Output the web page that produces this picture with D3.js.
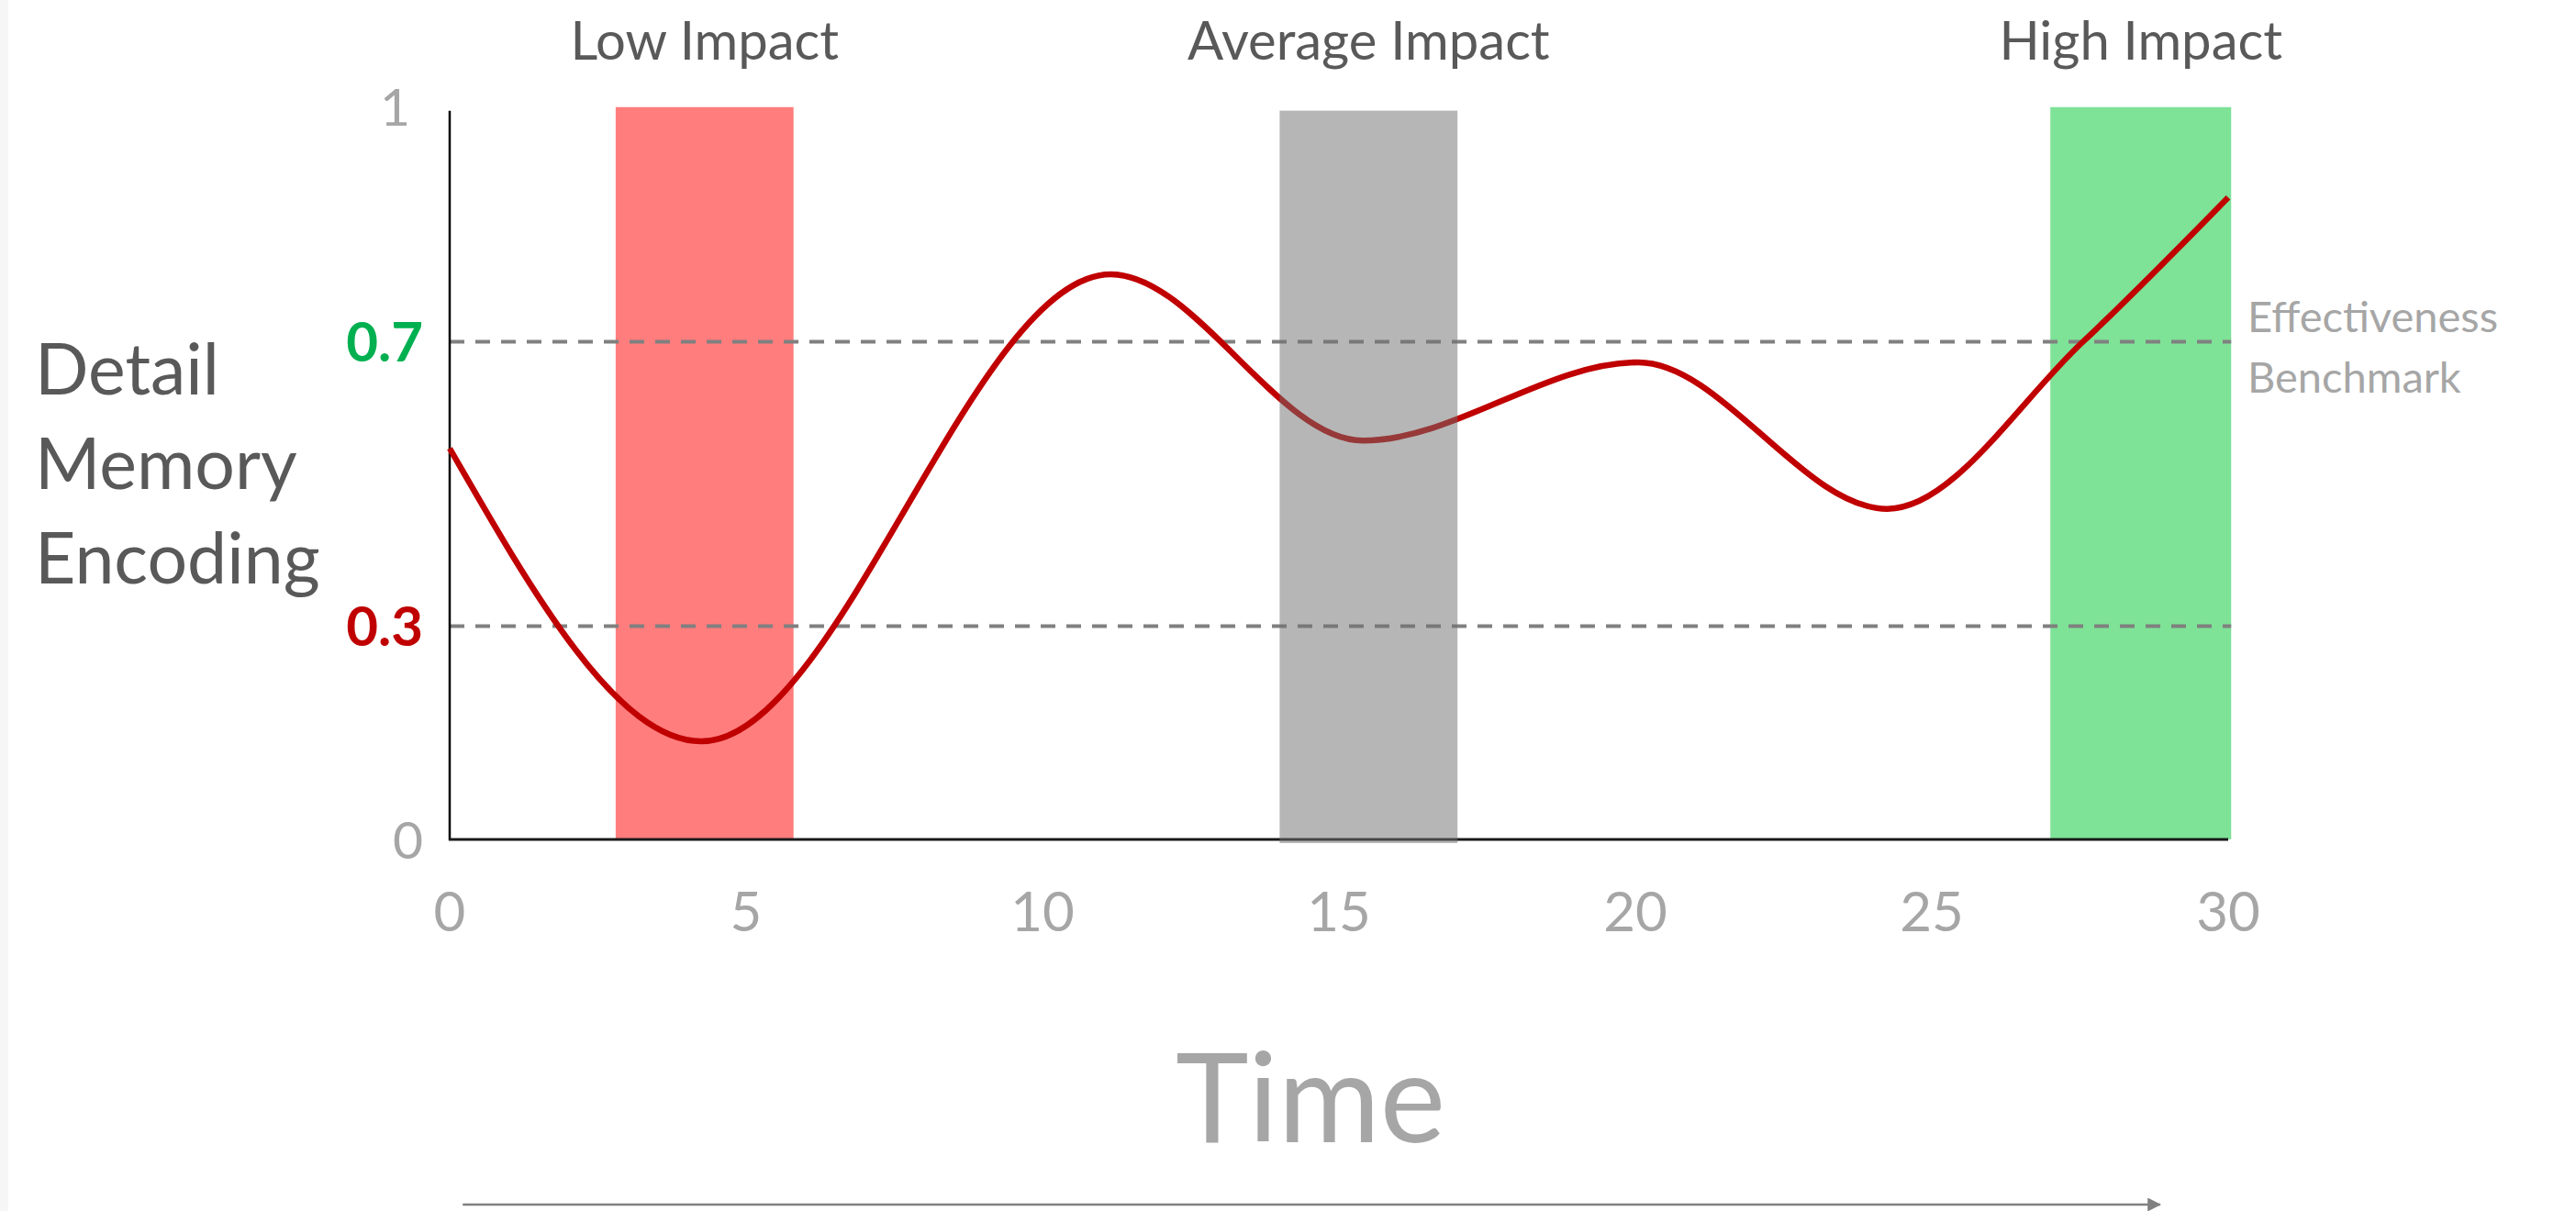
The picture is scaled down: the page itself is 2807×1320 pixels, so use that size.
<!DOCTYPE html>
<html>
<head>
<meta charset="utf-8">
<script src="https://cdn.jsdelivr.net/npm/d3@7"></script>
<style>
  html, body { margin: 0; padding: 0; background: #ffffff; }
  svg { display: block; }
  text { font-family: Lato, "Open Sans", sans-serif; }
</style>
</head>
<body>
<svg id="chart" width="2807" height="1320"></svg>
<script>
// ---- data ----
const timeValues = [0, 4.25, 11.15, 15.4, 20.05, 24.25, 27.55, 30];
const encodingValues = [0.55, 0.138, 0.795, 0.561, 0.671, 0.465, 0.70, 0.903];

const bandLabels = ["Low Impact", "Average Impact", "High Impact"];
const bandStart = [2.8, 14.0, 27.0];
const bandEnd = [5.8, 17.0, 30.05];

const xTickValues = [0, 5, 10, 15, 20, 25, 30];
const xTickLabels = ["0", "5", "10", "15", "20", "25", "30"];
const yTickValues = [0, 0.3, 0.7, 1.03];
const yTickLabels = ["0", "0.3", "0.7", "1"];
const benchmarkValues = [0.3, 0.7];
const yMax = 1.03;

// ---- layout ----
const svg = d3.select("#chart");
const x = d3.scaleLinear().domain([0, 30]).range([490, 2428]);
const y = d3.scaleLinear().domain([0, 1]).range([915, 140]);

// page edge tint
svg.append("rect").attr("x", 0).attr("y", 0).attr("width", 9).attr("height", 1320).attr("fill", "#f6f6f6");

const bands = bandLabels.map((l, i) => ({ label: l, s: bandStart[i], e: bandEnd[i], i }));
const bandColors = ["#ff7d7d", null, "#7ee297"];

// red / green bands (under everything)
svg.append("g").selectAll("rect")
  .data(bands.filter(d => d.i !== 1))
  .join("rect")
  .attr("x", d => x(d.s))
  .attr("width", d => x(d.e) - x(d.s))
  .attr("y", y(yMax))
  .attr("height", y(0) - y(yMax))
  .attr("fill", d => bandColors[d.i]);

// benchmark dashed lines
svg.append("g").selectAll("line")
  .data(benchmarkValues)
  .join("line")
  .attr("x1", x(0)).attr("x2", x(bandEnd[2]))
  .attr("y1", d => y(d)).attr("y2", d => y(d))
  .attr("stroke", "#808080")
  .attr("stroke-width", 4)
  .attr("stroke-dasharray", "16 12");

// axes lines
svg.append("line")
  .attr("x1", x(0)).attr("x2", x(0))
  .attr("y1", y(1.025)).attr("y2", y(0) + 1)
  .attr("stroke", "#000").attr("stroke-width", 2.5);
svg.append("line")
  .attr("x1", x(0) - 1).attr("x2", x(30))
  .attr("y1", y(0)).attr("y2", y(0))
  .attr("stroke", "#1a1a1a").attr("stroke-width", 3);

// curve
const pts = timeValues.map((t, i) => [t, encodingValues[i]]);
const line = d3.line().x(d => x(d[0])).y(d => y(d[1])).curve(d3.curveMonotoneX);
svg.append("path")
  .datum(pts)
  .attr("d", line)
  .attr("fill", "none")
  .attr("stroke", "#c00000")
  .attr("stroke-width", 6.5)
  .attr("stroke-linecap", "butt");

// gray band overlays the curve
svg.append("g").selectAll("rect")
  .data(bands.filter(d => d.i === 1))
  .join("rect")
  .attr("x", d => x(d.s))
  .attr("width", d => x(d.e) - x(d.s))
  .attr("y", y(1.025))
  .attr("height", y(0) + 4 - y(1.025))
  .attr("fill", "#6f6f6f")
  .attr("fill-opacity", 0.51);

// band labels
svg.append("g").selectAll("text")
  .data(bands)
  .join("text")
  .attr("x", d => (x(d.s) + x(d.e)) / 2)
  .attr("y", 65)
  .attr("text-anchor", "middle")
  .attr("font-size", 58)
  .attr("fill", "#595959")
  .text(d => d.label);

// y tick labels
const yTickColors = ["#a6a6a6", "#c00000", "#00b050", "#a6a6a6"];
const yTickWeights = [400, 700, 700, 400];
svg.append("g").selectAll("text")
  .data(yTickValues)
  .join("text")
  .attr("x", (d, i) => i === 3 ? 447 : 461)
  .attr("y", d => y(d))
  .attr("dy", "0.36em")
  .attr("text-anchor", "end")
  .attr("font-size", (d, i) => (i === 1 || i === 2) ? 60 : 57)
  .attr("font-weight", (d, i) => yTickWeights[i])
  .attr("fill", (d, i) => yTickColors[i])
  .text((d, i) => yTickLabels[i]);

// x tick labels
svg.append("g").selectAll("text")
  .data(xTickValues)
  .join("text")
  .attr("x", d => x(d))
  .attr("y", 1015)
  .attr("text-anchor", "middle")
  .attr("font-size", 60)
  .attr("fill", "#a6a6a6")
  .text((d, i) => xTickLabels[i]);

// y title
const yTitle = svg.append("text")
  .attr("x", 38).attr("y", 430)
  .attr("font-size", 77)
  .attr("fill", "#595959");
["Detail", "Memory", "Encoding"].forEach((w, i) => {
  yTitle.append("tspan").attr("x", 38).attr("dy", i === 0 ? 0 : 103).text(w);
});

// benchmark label
const bm = svg.append("text")
  .attr("x", 2449).attr("y", 362)
  .attr("font-size", 47)
  .attr("fill", "#a6a6a6");
bm.append("tspan").attr("x", 2449).attr("dy", 0).text("Effectiveness");
bm.append("tspan").attr("x", 2449).attr("dy", 66).text("Benchmark");

// x title
svg.append("text")
  .attr("x", 1428).attr("y", 1245)
  .attr("text-anchor", "middle")
  .attr("font-size", 135)
  .attr("fill", "#a6a6a6")
  .text("Time");

// time arrow
const defs = svg.append("defs");
defs.append("marker")
  .attr("id", "arrow")
  .attr("viewBox", "0 0 10 10")
  .attr("refX", 9).attr("refY", 5)
  .attr("markerWidth", 6).attr("markerHeight", 6)
  .attr("markerUnits", "strokeWidth")
  .attr("orient", "auto")
  .append("path").attr("d", "M0,0 L10,5 L0,10 z").attr("fill", "#808080");
svg.append("line")
  .attr("x1", x(0.22)).attr("x2", x(28.85))
  .attr("y1", 1313).attr("y2", 1313)
  .attr("stroke", "#808080").attr("stroke-width", 2.5)
  .attr("marker-end", "url(#arrow)");
</script>
</body>
</html>
